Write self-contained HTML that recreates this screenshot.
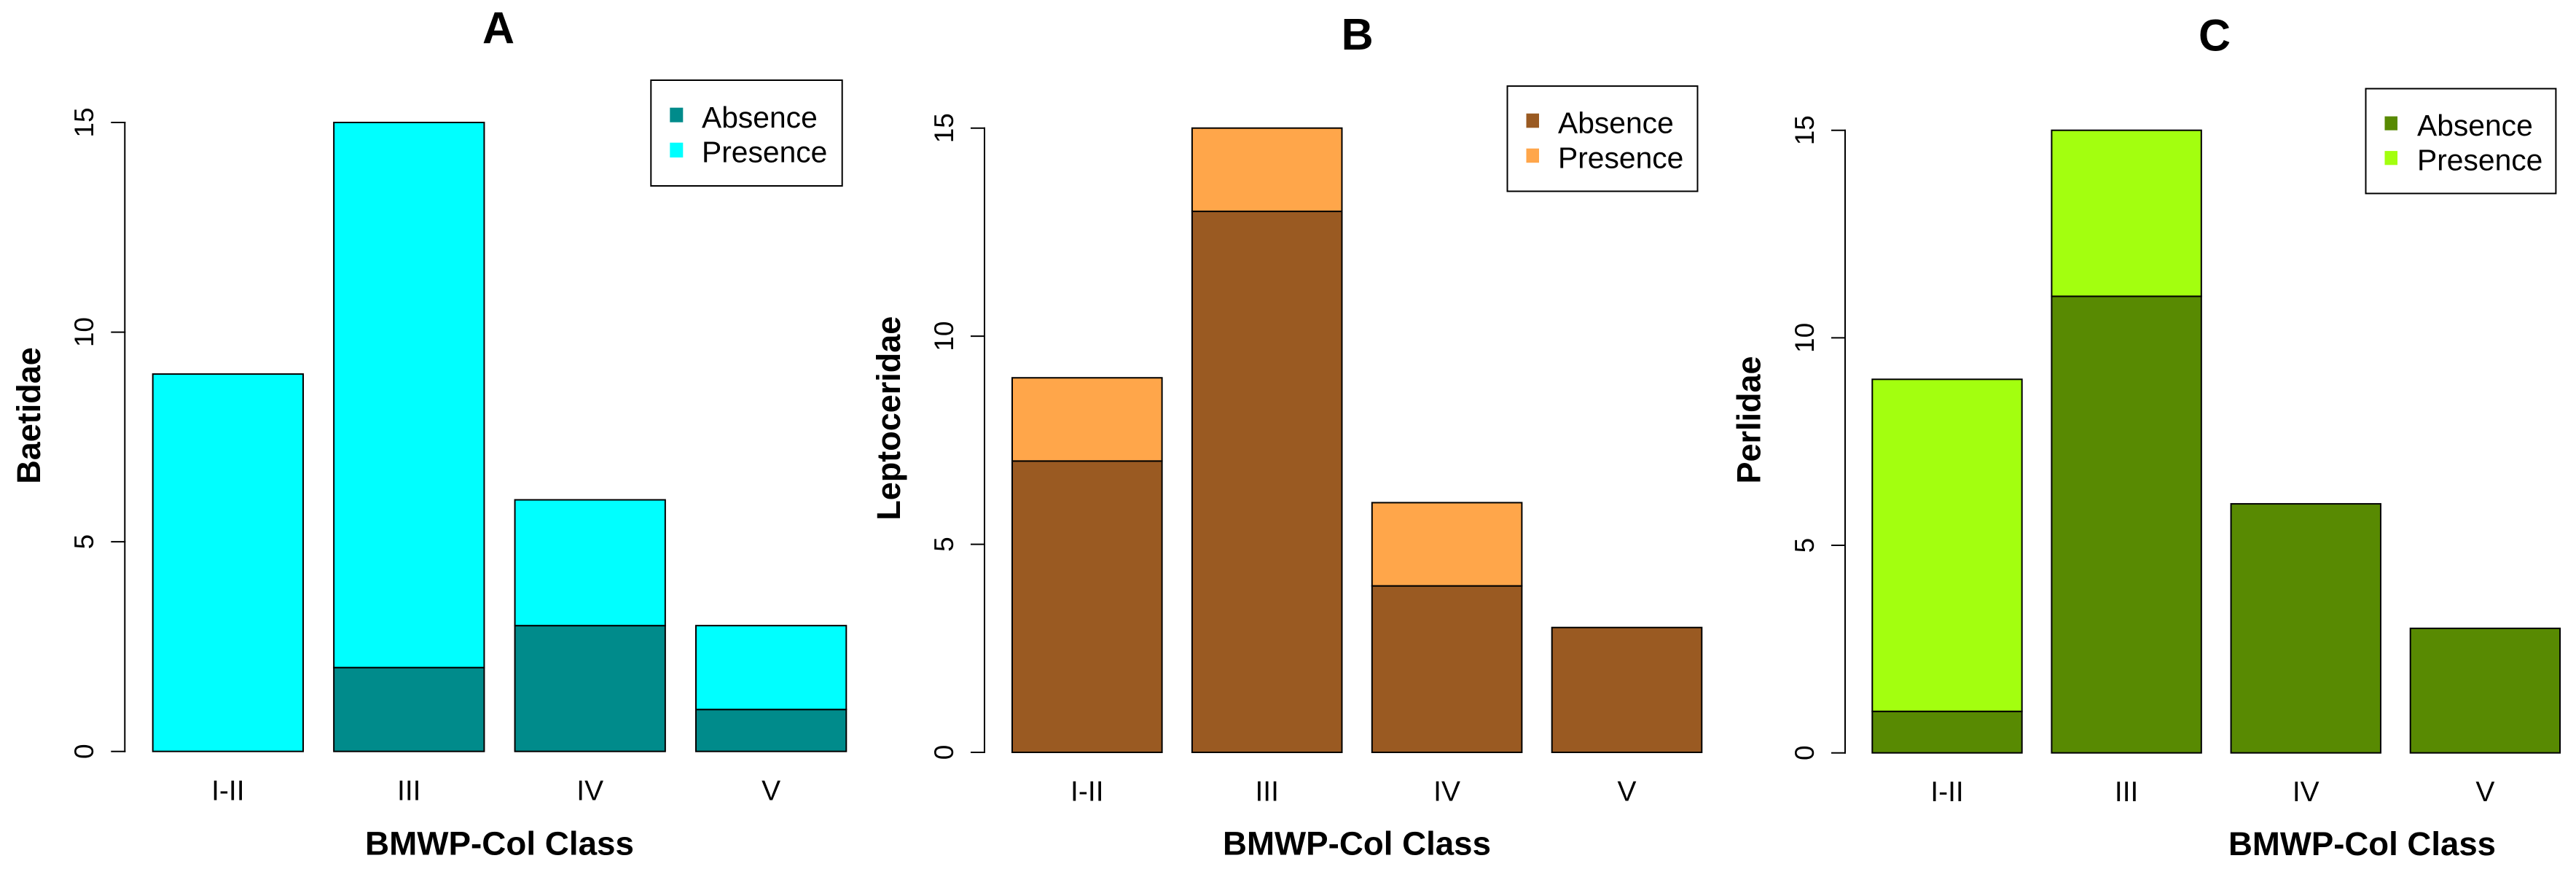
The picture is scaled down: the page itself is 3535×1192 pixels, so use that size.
<!DOCTYPE html>
<html lang="en">
<head>
<meta charset="utf-8">
<title>Family presence by BMWP-Col class</title>
<style>
html,body{margin:0;padding:0;background:#fff;}
svg{display:block;}
text{font-family:"Liberation Sans",Arial,sans-serif;fill:#000;}
.title{font-size:61px;font-weight:bold;text-anchor:middle;}
.axis-title{font-size:45px;font-weight:bold;text-anchor:middle;}
.legend-text{font-size:40.8px;}
.tick-label{font-size:39px;text-anchor:middle;}
.y-tick-label{font-size:37px;text-anchor:middle;}
</style>
</head>
<body>
<svg id="figure" xmlns="http://www.w3.org/2000/svg" width="3535" height="1192" viewBox="0 0 3535 1192">
  <rect x="0" y="0" width="3535" height="1192" fill="#ffffff"/>

  <g id="panel-a">
    <g id="marks-a"></g>
    <text class="title" x="684" y="59.3">A</text>
    <text class="axis-title" x="685.5" y="1172.3" textLength="369" lengthAdjust="spacingAndGlyphs">BMWP-Col Class</text>
    <text class="axis-title" transform="translate(55,570) rotate(-90)">Baetidae</text>
    <g>
      <rect x="893.3" y="110" width="262.4" height="145" fill="#fff" stroke="#000" stroke-width="2"/>
      <rect x="919.3" y="147.7" width="18" height="20" fill="#008B8B"/>
      <rect x="919.3" y="195.7" width="18" height="20.3" fill="#00FFFF"/>
      <text class="legend-text" x="963" y="175">Absence</text>
      <text class="legend-text" x="963" y="222.7">Presence</text>
    </g>
  </g>

  <g id="panel-b">
    <g id="marks-b"></g>
    <text class="title" x="1862.6" y="67.9">B</text>
    <text class="axis-title" x="1862" y="1172.7" textLength="368" lengthAdjust="spacingAndGlyphs">BMWP-Col Class</text>
    <text class="axis-title" transform="translate(1235,573.7) rotate(-90)">Leptoceridae</text>
    <g>
      <rect x="2068.5" y="118.1" width="261" height="144.3" fill="#fff" stroke="#000" stroke-width="2"/>
      <rect x="2094.5" y="155.7" width="17.5" height="19.6" fill="#9A5A22"/>
      <rect x="2094.5" y="203.7" width="17.5" height="19.5" fill="#FFA64A"/>
      <text class="legend-text" x="2138" y="182.7">Absence</text>
      <text class="legend-text" x="2138" y="230.5">Presence</text>
    </g>
  </g>

  <g id="panel-c">
    <g id="marks-c"></g>
    <text class="title" x="3039" y="69.5">C</text>
    <text class="axis-title" x="3241.5" y="1173" textLength="367" lengthAdjust="spacingAndGlyphs">BMWP-Col Class</text>
    <text class="axis-title" transform="translate(2415.4,576) rotate(-90)">Perlidae</text>
    <g>
      <rect x="3246.5" y="121.6" width="260.9" height="143.8" fill="#fff" stroke="#000" stroke-width="2"/>
      <rect x="3272.5" y="159.6" width="17.5" height="19.1" fill="#588A02"/>
      <rect x="3272.5" y="207.1" width="17.5" height="19.2" fill="#A3FF0F"/>
      <text class="legend-text" x="3317" y="185.8">Absence</text>
      <text class="legend-text" x="3317" y="233.3">Presence</text>
    </g>
  </g>
</svg>

<script>
// Chart data
const categories = ["I-II", "III", "IV", "V"];
const yTickValues = [0, 5, 10, 15];
const yTickLabels = ["0", "5", "10", "15"];
const baetidaeAbsence = [0, 2, 3, 1];
const baetidaePresence = [9, 13, 3, 2];
const leptoceridaeAbsence = [7, 13, 4, 3];
const leptoceridaePresence = [2, 2, 2, 0];
const perlidaeAbsence = [1, 11, 6, 3];
const perlidaePresence = [8, 4, 0, 0];

const NS = "http://www.w3.org/2000/svg";
const STROKE = 2;
const TICK_LEN = 18;

function svgEl(tag) {
  return document.createElementNS(NS, tag);
}

function drawLine(parent, x1, y1, x2, y2, name) {
  const l = svgEl("line");
  l.setAttribute("x1", x1);
  l.setAttribute("y1", y1);
  l.setAttribute("x2", x2);
  l.setAttribute("y2", y2);
  l.setAttribute("stroke", "#000");
  l.setAttribute("stroke-width", STROKE);
  l.setAttribute("stroke-linecap", "square");
  
  
  parent.appendChild(l);
}

function drawPanel(cfg) {
  const root = document.getElementById(cfg.id);
  const yScale = v => cfg.y0 - (v / 15) * (cfg.y0 - cfg.y15);
  const n = categories.length;
  const step = (cfg.lastBarLeft - cfg.firstBarLeft) / (n - 1);
  const xLeft = i => cfg.firstBarLeft + i * step;

  // stacked bars
  categories.forEach((cat, i) => {
    const a = cfg.absence[i];
    const p = cfg.presence[i];
    const segments = [
      { from: 0, to: a, fill: cfg.absenceColor, label: "absence" },
      { from: a, to: a + p, fill: cfg.presenceColor, label: "presence" }
    ];
    segments.forEach(s => {
      if (s.to <= s.from) return;
      const r = svgEl("rect");
      r.setAttribute("x", xLeft(i));
      r.setAttribute("y", yScale(s.to));
      r.setAttribute("width", cfg.barWidth);
      r.setAttribute("height", yScale(s.from) - yScale(s.to));
      r.setAttribute("fill", s.fill);
      r.setAttribute("stroke", "#000");
      r.setAttribute("stroke-width", STROKE);
      
      
      root.appendChild(r);
    });

    // category label
    const t = svgEl("text");
    t.setAttribute("class", "tick-label");
    t.setAttribute("x", xLeft(i) + cfg.barWidth / 2);
    t.setAttribute("y", cfg.xLabelY);
    
    
    t.textContent = cat;
    root.appendChild(t);
  });

  // y axis
  drawLine(root, cfg.axisX, yScale(yTickValues[0]), cfg.axisX, yScale(yTickValues[yTickValues.length - 1]), "y-axis-line");
  yTickValues.forEach((v, i) => {
    const y = yScale(v);
    drawLine(root, cfg.axisX - TICK_LEN, y, cfg.axisX, y, "y-tick-" + v);
    const t = svgEl("text");
    t.setAttribute("class", "y-tick-label");
    t.setAttribute("transform", "translate(" + cfg.yLabelX + "," + y + ") rotate(-90)");
    
    
    t.textContent = yTickLabels[i];
    root.appendChild(t);
  });
}

drawPanel({
  id: "marks-a", absence: baetidaeAbsence, presence: baetidaePresence,
  absenceColor: "#008B8B", presenceColor: "#00FFFF",
  axisX: 171.3, y0: 1030.7, y15: 168,
  firstBarLeft: 209.7, lastBarLeft: 955, barWidth: 206.3,
  xLabelY: 1097.3, yLabelX: 128
});
drawPanel({
  id: "marks-b", absence: leptoceridaeAbsence, presence: leptoceridaePresence,
  absenceColor: "#9A5A22", presenceColor: "#FFA64A",
  axisX: 1351, y0: 1032, y15: 175.7,
  firstBarLeft: 1389, lastBarLeft: 2129.7, barWidth: 205.6,
  xLabelY: 1098.3, yLabelX: 1308
});
drawPanel({
  id: "marks-c", absence: perlidaeAbsence, presence: perlidaePresence,
  absenceColor: "#588A02", presenceColor: "#A3FF0F",
  axisX: 2532, y0: 1032.7, y15: 178.7,
  firstBarLeft: 2569.3, lastBarLeft: 3307.7, barWidth: 205.4,
  xLabelY: 1099, yLabelX: 2489
});
</script>
</body>
</html>
